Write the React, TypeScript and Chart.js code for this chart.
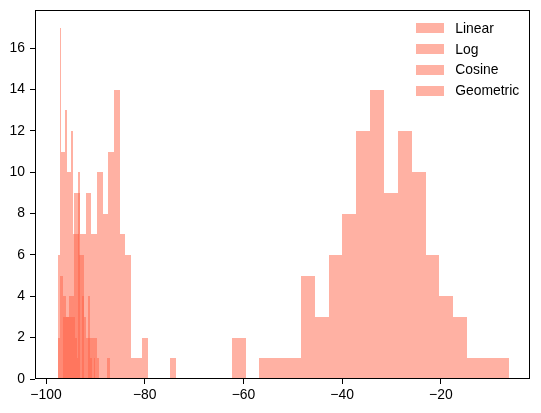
import { useEffect, useRef } from "react";
import { Chart, registerables } from "chart.js";

Chart.register(...registerables);

// Histogram data (20 bins per series, bin range [start, end])
const seriesNames = ["Linear", "Log", "Cosine", "Geometric"];

const linearRange = [-62.36, -6.28];
const linearCounts = [2, 0, 1, 1, 1, 5, 3, 6, 8, 12, 14, 9, 12, 10, 6, 4, 3, 1, 1, 1];

const logRange = [-96.53, -73.67];
const logCounts = [3, 4, 9, 7, 9, 7, 10, 8, 11, 14, 7, 6, 1, 1, 2, 0, 0, 0, 0, 1];

const cosineRange = [-97.63, -89.99];
const cosineCounts = [6, 17, 11, 11, 13, 10, 10, 12, 3, 2, 1, 10, 0, 4, 0, 0, 4, 1, 0, 1];

const geometricRange = [-97.63, -87.09];
const geometricCounts = [2, 5, 4, 3, 3, 3, 7, 7, 6, 6, 3, 2, 2, 2, 2, 1, 0, 0, 0, 1];

const xTicks = [-100, -80, -60, -40, -20];
const yTicks = [0, 2, 4, 6, 8, 10, 12, 14, 16];
const xLimits = [-102.23, -1.93];
const yLimits = [0, 17.85];

const barColor = "rgba(255, 99, 71, 0.5)";
const fontFamily = "'Liberation Sans', Arial, Helvetica, sans-serif";
const fontSize = 13.9;

const fmt = (v: number) => (v < 0 ? "\u2212" + Math.abs(v) : String(v));

// snap bar rectangles to whole pixels (like matplotlib's Agg snapping)
const snapPlugin = {
  id: "snapBars",
  beforeDatasetsDraw(chart: any) {
    chart.getSortedVisibleDatasetMetas().forEach((meta: any) => {
      meta.data.forEach((el: any) => {
        const l = Math.round(el.x - el.width / 2);
        const r = Math.round(el.x + el.width / 2);
        el.x = (l + r) / 2;
        el.width = r - l;
        el.y = Math.round(el.y);
        el.base = Math.round(el.base);
      });
    });
  },
};

const framePlugin = {
  id: "mplFrame",
  afterDraw(chart: any) {
    const { ctx, chartArea } = chart;
    ctx.save();
    ctx.strokeStyle = "#000";
    ctx.lineWidth = 1;
    const l = Math.round(chartArea.left) + 0.5;
    const t = Math.round(chartArea.top) + 0.5;
    const r = Math.round(chartArea.right) - 0.5;
    const b = Math.round(chartArea.bottom) - 0.5;
    ctx.strokeRect(l, t, r - l, b - t);
    ctx.restore();
  },
};

const legendPlugin = {
  id: "mplLegend",
  afterDraw(chart: any) {
    const { ctx, chartArea } = chart;
    ctx.save();
    ctx.font = `${fontSize}px ${fontFamily}`;
    ctx.textBaseline = "middle";
    ctx.textAlign = "left";
    chart.data.datasets.forEach((ds: any, i: number) => {
      const x = chartArea.right - 114.5;
      const y = chartArea.top + 13.3 + i * 20.9;
      ctx.fillStyle = ds.backgroundColor;
      ctx.fillRect(Math.round(x), Math.round(y), 28, 10);
      ctx.fillStyle = "#000";
      ctx.fillText(ds.label, x + 39.7, y + 5.5);
    });
    ctx.restore();
  },
};

export default function App() {
  const ref = useRef<HTMLCanvasElement>(null);

  useEffect(() => {
    document.body.style.margin = "0";
    const series = [
      { label: seriesNames[0], range: linearRange, counts: linearCounts, axis: "x" },
      { label: seriesNames[1], range: logRange, counts: logCounts, axis: "xLog" },
      { label: seriesNames[2], range: cosineRange, counts: cosineCounts, axis: "xCos" },
      { label: seriesNames[3], range: geometricRange, counts: geometricCounts, axis: "xGeo" },
    ];
    const datasets = series.map((s) => {
      const w = (s.range[1] - s.range[0]) / s.counts.length;
      return {
        label: s.label,
        xAxisID: s.axis,
        yAxisID: "y",
        data: s.counts.map((c, i) => ({ x: s.range[0] + (i + 0.5) * w, y: c })),
        backgroundColor: barColor,
        borderWidth: 0,
        barPercentage: 1,
        categoryPercentage: 1,
        grouped: false,
        inflateAmount: 0,
      };
    });

    const hiddenX = () => ({
      type: "linear" as const,
      display: false,
      min: xLimits[0],
      max: xLimits[1],
      offset: false,
      grid: { offset: false },
    });

    const font = { family: fontFamily, size: fontSize };

    const chart = new Chart(ref.current as HTMLCanvasElement, {
      type: "bar",
      data: { datasets: datasets as any },
      options: {
        animation: false,
        responsive: false,
        devicePixelRatio: 1,
        layout: { padding: { top: 10, right: 11, left: 0, bottom: 0 } },
        plugins: {
          legend: { display: false },
          tooltip: { enabled: false },
        },
        scales: {
          x: {
            type: "linear",
            min: xLimits[0],
            max: xLimits[1],
            offset: false,
            grid: {
              display: true,
              offset: false,
              drawOnChartArea: false,
              drawTicks: true,
              tickLength: 5,
              tickColor: "#000",
              tickWidth: 1,
            },
            border: { display: false },
            ticks: {
              font,
              color: "#000",
              padding: 3,
              autoSkip: false,
              maxRotation: 0,
              callback: (v: any) => fmt(Number(v)),
            },
            afterBuildTicks: (s: any) => {
              s.ticks = xTicks.map((v) => ({ value: v }));
            },
            afterFit: (s: any) => {
              s.height = 34;
              s.paddingLeft = 0;
              s.paddingRight = 0;
            },
          },
          xLog: hiddenX(),
          xCos: hiddenX(),
          xGeo: hiddenX(),
          y: {
            type: "linear",
            min: yLimits[0],
            max: yLimits[1],
            grid: {
              display: true,
              offset: false,
              drawOnChartArea: false,
              drawTicks: true,
              tickLength: 5,
              tickColor: "#000",
              tickWidth: 1,
            },
            border: { display: false },
            ticks: {
              font,
              color: "#000",
              padding: 5,
              autoSkip: false,
              callback: (v: any) => fmt(Number(v)),
            },
            afterBuildTicks: (s: any) => {
              s.ticks = yTicks.map((v) => ({ value: v }));
            },
            afterFit: (s: any) => {
              s.width = 35;
              s.paddingTop = 0;
              s.paddingBottom = 0;
            },
          },
        },
      } as any,
      plugins: [snapPlugin, framePlugin, legendPlugin],
    });
    return () => chart.destroy();
  }, []);

  return (
    <div style={{ width: 541, height: 413 }}>
      <canvas ref={ref} width={541} height={413} />
    </div>
  );
}
